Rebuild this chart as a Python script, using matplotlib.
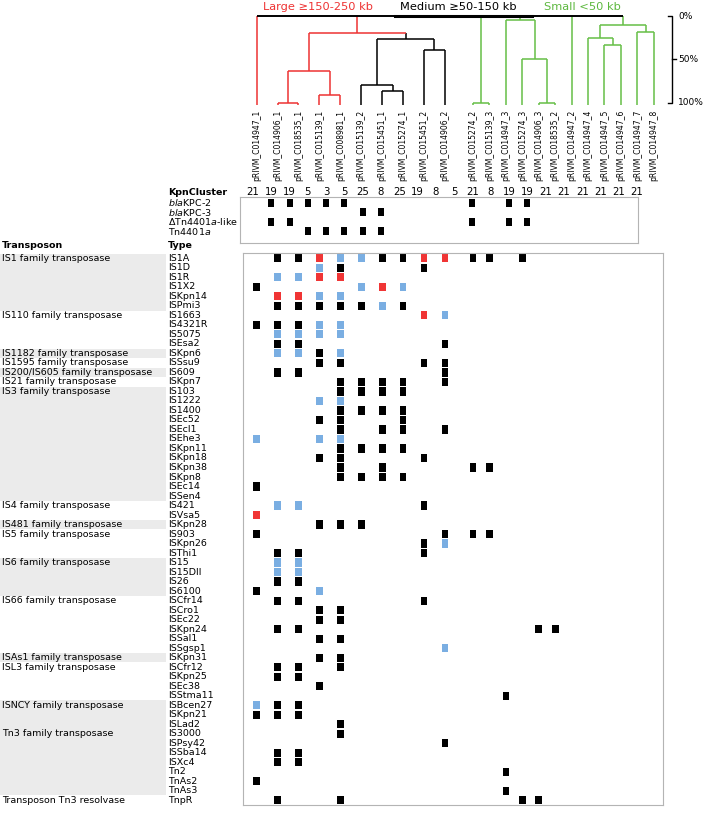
import numpy as np
import matplotlib
matplotlib.use("Agg")
import matplotlib.pyplot as plt
from matplotlib.transforms import blended_transform_factory

# --- data ---
plasmids = ["pRIVM_C014947_1", "pRIVM_C014906_1", "pRIVM_C018535_1", "pRIVM_C015139_1",
            "pRIVM_C008981_1", "pRIVM_C015139_2", "pRIVM_C015451_1", "pRIVM_C015274_1",
            "pRIVM_C015451_2", "pRIVM_C014906_2", "pRIVM_C015274_2", "pRIVM_C015139_3",
            "pRIVM_C014947_3", "pRIVM_C015274_3", "pRIVM_C014906_3", "pRIVM_C018535_2",
            "pRIVM_C014947_2", "pRIVM_C014947_4", "pRIVM_C014947_5", "pRIVM_C014947_6",
            "pRIVM_C014947_7", "pRIVM_C014947_8"]
size_class = ["Large"] * 5 + ["Medium"] * 5 + ["Small"] * 12
size_labels = {"Large": "Large \u2265150-250 kb", "Medium": "Medium \u226550-150 kb", "Small": "Small <50 kb"}
kpn_cluster = [21, 19, 19, 5, 3, 5, 25, 8, 25, 19, 8, 5, 21, 8, 19, 19, 21, 21, 21, 21, 21, 21]

kpc_features = [r"$\mathit{bla}$KPC-2", r"$\mathit{bla}$KPC-3",
                "\u0394Tn$\\mathit{4401a}$-like", r"Tn$\mathit{4401a}$"]
kpc_hits = [[1, 2, 3, 4, 5, 12, 14, 15],
            [6, 7],
            [1, 2, 12, 14, 15],
            [3, 4, 5, 6, 7]]

families = ["IS1 family transposase", "IS110 family transposase", "IS1182 family transposase",
            "IS1595 family transposase", "IS200/IS605 family transposase", "IS21 family transposase",
            "IS3 family transposase", "IS4 family transposase", "IS481 family transposase",
            "IS5 family transposase", "IS6 family transposase", "IS66 family transposase",
            "ISAs1 family transposase", "ISL3 family transposase", "ISNCY family transposase",
            "Tn3 family transposase", "Transposon Tn3 resolvase"]
family_members = [
    ["IS1A", "IS1D", "IS1R", "IS1X2", "ISKpn14", "ISPmi3"],
    ["IS1663", "IS4321R", "IS5075", "ISEsa2"],
    ["ISKpn6"],
    ["ISSsu9"],
    ["IS609"],
    ["ISKpn7"],
    ["IS103", "IS1222", "IS1400", "ISEc52", "ISEcl1", "ISEhe3", "ISKpn11", "ISKpn18",
     "ISKpn38", "ISKpn8", "ISEc14", "ISSen4"],
    ["IS421", "ISVsa5"],
    ["ISKpn28"],
    ["IS903", "ISKpn26", "ISThi1"],
    ["IS15", "IS15DII", "IS26", "IS6100"],
    ["ISCfr14", "ISCro1", "ISEc22", "ISKpn24", "ISSal1", "ISSgsp1"],
    ["ISKpn31"],
    ["ISCfr12", "ISKpn25", "ISEc38", "ISStma11"],
    ["ISBcen27", "ISKpn21", "ISLad2"],
    ["IS3000", "ISPsy42", "ISSba14", "ISXc4", "Tn2", "TnAs2", "TnAs3"],
    ["TnpR"],
]
# one string per type, one char per plasmid: K black, B blue, R red, . absent
presence = [
    ".KKRBBKKRRKK.K........",  # IS1A
    "...BK...K.............",  # IS1D
    ".BBRR.................",  # IS1R
    "K....BRB..............",  # IS1X2
    ".RRBB.................",  # ISKpn14
    ".KKKKKBK..............",  # ISPmi3
    "........RB............",  # IS1663
    "KKKBB.................",  # IS4321R
    ".BBBB.................",  # IS5075
    ".KK......K............",  # ISEsa2
    ".BBKB.................",  # ISKpn6
    "...KK...KK............",  # ISSsu9
    ".KK......K............",  # IS609
    "....KKKK.K............",  # ISKpn7
    "....KKKK..............",  # IS103
    "...BB.................",  # IS1222
    "....KKKK..............",  # IS1400
    "...KK..K..............",  # ISEc52
    "....K.KK.K............",  # ISEcl1
    "B..BB.................",  # ISEhe3
    "....KKKK..............",  # ISKpn11
    "...KK...K.............",  # ISKpn18
    "....K.K...KK..........",  # ISKpn38
    "....KKKK..............",  # ISKpn8
    "K.....................",  # ISEc14
    "......................",  # ISSen4
    ".BB.....K.............",  # IS421
    "R.....................",  # ISVsa5
    "...KKK................",  # ISKpn28
    "K........KKK..........",  # IS903
    "........KB............",  # ISKpn26
    ".KK.....K.............",  # ISThi1
    ".BB...................",  # IS15
    ".BB...................",  # IS15DII
    ".KK...................",  # IS26
    "K..B..................",  # IS6100
    ".KK.....K.............",  # ISCfr14
    "...KK.................",  # ISCro1
    "...KK.................",  # ISEc22
    ".KK...........KK......",  # ISKpn24
    "...KK.................",  # ISSal1
    ".........B............",  # ISSgsp1
    "...KK.................",  # ISKpn31
    ".KK.K.................",  # ISCfr12
    ".KK...................",  # ISKpn25
    "...K..................",  # ISEc38
    "............K.........",  # ISStma11
    "BKK...................",  # ISBcen27
    "KKK...................",  # ISKpn21
    "....K.................",  # ISLad2
    "....K.................",  # IS3000
    ".........K............",  # ISPsy42
    ".KK...................",  # ISSba14
    ".KK...................",  # ISXc4
    "............K.........",  # Tn2
    "K.....................",  # TnAs2
    "............K.........",  # TnAs3
    ".K..K........KK.......",  # TnpR
]

# dendrogram: (similarity %, colour group, children); ints are leaves
dendro = (0, "root", [
    0,
    (20, "Large", [
        (63, "Large", [(100, "Large", [1, 2]), (91, "Large", [3, 4])]),
        (26, "Medium", [(80, "Medium", [5, (86, "Medium", [6, 7])]), (39, "Medium", [8, 9])]),
    ]),
    (100, "Small", [10, 11]),
    (5, "Small", [12, (50, "Small", [13, (100, "Small", [14, 15])])]),
    16,
    (10, "Small", [(25, "Small", [17, (33, "Small", [18, 19])]), (19, "Small", [20, 21])]),
])

# --- style ---
W, H = 709, 815
group_color = {"Large": "#ee3333", "Medium": "black", "Small": "#66bf46", "root": "black"}
label_green = "#5db83f"
cell_color = {"K": "black", "B": "#7aaee2", "R": "#f03535"}
shade = [True, False, True, False, True, False, True, False, True, False,
         True, False, True, False, True, True, False]
fs = 6.8

fig = plt.figure(figsize=(W / 100, H / 100), dpi=100)


def px_axes(l, t, r, b):
    return fig.add_axes([l / W, 1 - b / H, (r - l) / W, (b - t) / H])


# column positions: small plasmids packed a bit tighter
small = np.array(size_class) == "Small"
w = np.where(small, 0.785, 1.0)
xpos = np.cumsum(w) - w + np.where(small, 0.45, 0.0) + w / 2
xlim = (-0.15, 19.92)

# --- heatmap ---
types = [t for m in family_members for t in m]
nrow = len(types)
ax = px_axes(243, 253.3, 663, 805)
for code, col in cell_color.items():
    rr, cc = [], []
    for r, pat in enumerate(presence):
        for c, ch in enumerate(pat):
            if ch == code:
                rr.append(r)
                cc.append(c)
    rr = np.array(rr)
    ax.bar(xpos[cc], 0.86, bottom=rr - 0.43, width=0.32, color=col, linewidth=0)
ax.set_xlim(*xlim)
ax.set_ylim(nrow - 0.5, -0.53)
ax.set_xticks([])
ax.set_yticks([])
for s in ax.spines.values():
    s.set_color("#b4b4b4")

# --- row labels ---
axl = px_axes(0, 253.3, 243, 805)
axl.sharey(ax)
axl.axis("off")
start = 0
for i, (fam, mem) in enumerate(zip(families, family_members)):
    if shade[i]:
        axl.axhspan(start - 0.5, start + len(mem) - 0.5, xmin=0, xmax=166 / 243,
                    color="#ebebeb", lw=0)
    axl.text(2 / 243, start, fam, fontsize=fs, va="center", ha="left")
    start += len(mem)
for r, t in enumerate(types):
    axl.text(168 / 243, r, t, fontsize=fs, va="center", ha="left")
axl.text(2 / 243, -1.3, "Transposon", fontsize=fs, fontweight="bold", va="center", clip_on=False)
axl.text(168 / 243, -1.3, "Type", fontsize=fs, fontweight="bold", va="center", clip_on=False)

# --- KPC table ---
axk = px_axes(240, 196.7, 638, 242.7)
for r, cols in enumerate(kpc_hits):
    axk.bar(cols, 0.86, bottom=r - 0.43, width=0.33, color="black", linewidth=0)
axk.set_xlim(-0.71, 21.05)
axk.set_ylim(4.21, -0.63)
axk.set_xticks([])
axk.set_yticks([])
for s in axk.spines.values():
    s.set_color("#b4b4b4")
for i, c in enumerate(kpn_cluster):
    axk.text(i, -1.09, str(c), ha="center", va="center", fontsize=7.3, clip_on=False)
tk = blended_transform_factory(fig.transFigure, axk.transData)
axk.text(168 / W, -1.09, "KpnCluster", transform=tk, fontsize=fs, fontweight="bold", va="center")
for r, lab in enumerate(kpc_features):
    axk.text(168 / W, r, lab, transform=tk, fontsize=fs, va="center")

# --- dendrogram ---
axd = px_axes(243, 5, 663, 108)
axd.set_xlim(*xlim)
axd.set_ylim(106.2, -12.7)
axd.axis("off")
leaf_end = 102.5
lw = 1.1


def draw(node):
    if isinstance(node, int):
        return xpos[node], leaf_end, group_color[size_class[node]]
    h, grp, kids = node
    res = [draw(k) for k in kids]
    xs = [x for x, _, _ in res]
    for x, ch, col in res:
        axd.plot([x, x], [h, ch], color=col, lw=lw, solid_capstyle="butt")
    axd.plot([min(xs), max(xs)], [h, h], color=group_color[grp], lw=lw if grp != "root" else 1.4,
             solid_capstyle="butt")
    return np.mean(xs), h, group_color[grp]


draw(dendro)
for i, name in enumerate(plasmids):
    axd.text(xpos[i], 108.5, name, rotation=90, ha="center", va="top", fontsize=5.5, clip_on=False)

td = blended_transform_factory(axd.transAxes, axd.transData)
axd.plot([0.362, 0.688], [0, 0], transform=td, color="black", lw=2.2, clip_on=False)
for frac, grp, col in [(0.1786, "Large", group_color["Large"]), (0.512, "Medium", "black"),
                       (0.807, "Small", label_green)]:
    axd.text(frac, -10.7, size_labels[grp], transform=td, ha="center", va="center",
             fontsize=8.2, color=col, clip_on=False)

# similarity scale
axd.plot([1.0126, 1.0221, 1.0221, 1.0126], [0, 0, 100, 100], transform=td,
         color="black", lw=1, clip_on=False)
axd.plot([1.0221, 1.0298], [50, 50], transform=td, color="black", lw=1, clip_on=False)
for v in [0, 50, 100]:
    axd.text(1.0357, v, f"{v}%", transform=td, fontsize=6.5, va="center", ha="left", clip_on=False)

fig.savefig("out.png", dpi=100)
